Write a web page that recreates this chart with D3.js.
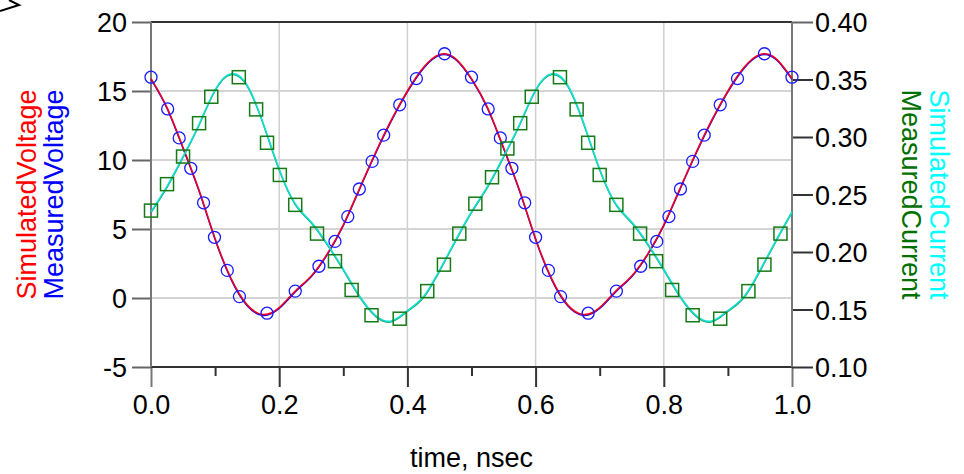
<!DOCTYPE html>
<html>
<head>
<meta charset="utf-8">
<script src="https://cdn.jsdelivr.net/npm/d3@7"></script>
<style>
  body { margin: 0; background: #fff; }
  text { font-family: "Liberation Sans", Arial, sans-serif; }
</style>
</head>
<body>
<div id="chart"></div>
<script>
// simulated traces, every 0.025 ns
var simTime = [0.000, 0.025, 0.050, 0.075, 0.100, 0.125, 0.150, 0.175, 0.200, 0.225,
  0.250, 0.275, 0.300, 0.325, 0.350, 0.375, 0.400, 0.425, 0.450, 0.475,
  0.500, 0.525, 0.550, 0.575, 0.600, 0.625, 0.650, 0.675, 0.700, 0.725,
  0.750, 0.775, 0.800, 0.825, 0.850, 0.875, 0.900, 0.925, 0.950, 0.975, 1.000];
var simVoltage = [15.9, 13.8, 10.9, 7.8, 4.3, 1.4, -0.5, -1.2, -0.7, 0.5,
  1.6, 3.2, 5.3, 7.9, 10.5, 12.9, 15.0, 16.7, 17.65, 17.35,
  15.9, 13.8, 10.9, 7.8, 4.3, 1.4, -0.5, -1.2, -0.7, 0.5,
  1.6, 3.2, 5.3, 7.9, 10.5, 12.9, 15.0, 16.7, 17.65, 17.35, 15.9];
var simCurrent = [0.235, 0.257, 0.283, 0.311, 0.341, 0.355, 0.345, 0.312, 0.272, 0.242,
  0.226, 0.207, 0.185, 0.162, 0.145, 0.140, 0.149, 0.161, 0.184, 0.210,
  0.235, 0.257, 0.283, 0.311, 0.341, 0.355, 0.345, 0.312, 0.272, 0.242,
  0.226, 0.207, 0.185, 0.162, 0.145, 0.140, 0.149, 0.161, 0.184, 0.210, 0.235];

// measured points
var measVTime = [0.000, 0.026, 0.044, 0.062, 0.082, 0.099, 0.119, 0.138, 0.181, 0.225,
  0.262, 0.287, 0.307, 0.325, 0.345, 0.363, 0.388, 0.414, 0.458, 0.500,
  0.526, 0.545, 0.563, 0.583, 0.600, 0.620, 0.639, 0.682, 0.726, 0.764,
  0.789, 0.808, 0.826, 0.845, 0.863, 0.888, 0.915, 0.957, 1.000];
var measVoltage = [16.0, 13.7, 11.6, 9.4, 6.9, 4.4, 2.0, 0.1, -1.1, 0.5,
  2.3, 4.1, 5.9, 7.9, 9.9, 11.8, 14.0, 15.9, 17.7, 16.0,
  13.7, 11.6, 9.4, 6.9, 4.4, 2.0, 0.1, -1.1, 0.5, 2.3,
  4.1, 5.9, 7.9, 9.9, 11.8, 14.0, 15.9, 17.7, 16.0];
var measITime = [0.000, 0.025, 0.050, 0.075, 0.094, 0.137, 0.164, 0.181, 0.201, 0.225,
  0.259, 0.287, 0.313, 0.344, 0.388, 0.431, 0.457, 0.481, 0.506, 0.532,
  0.556, 0.576, 0.594, 0.638, 0.664, 0.682, 0.700, 0.726, 0.763, 0.788,
  0.813, 0.845, 0.888, 0.932, 0.957, 0.982];
var measCurrent = [0.236, 0.259, 0.283, 0.312, 0.335, 0.352, 0.324, 0.295, 0.267, 0.241,
  0.216, 0.192, 0.167, 0.145, 0.142, 0.166, 0.189, 0.216, 0.242, 0.265,
  0.290, 0.312, 0.335, 0.352, 0.324, 0.295, 0.267, 0.241, 0.216, 0.192,
  0.167, 0.145, 0.142, 0.166, 0.189, 0.216];

var xTicks = [0, 0.2, 0.4, 0.6, 0.8, 1.0];
var xMinorTicks = [0.1, 0.3, 0.5, 0.7, 0.9];
var yLeftTicks = [-5, 0, 5, 10, 15, 20];
var yRightTicks = [0.10, 0.15, 0.20, 0.25, 0.30, 0.35, 0.40];

var margin = { top: 22, left: 151, right: 172, bottom: 107 },
  width = 964 - margin.left - margin.right,
  height = 474 - margin.top - margin.bottom;

var svg = d3.select("#chart")
  .append("svg")
  .attr("width", 964)
  .attr("height", 474);

var g = svg.append("g")
  .attr("transform", "translate(" + margin.left + "," + margin.top + ")");

var xScale = d3.scaleLinear().domain([0, 1]).range([0, width]);
var yLeft = d3.scaleLinear().domain([-5, 20]).range([height, 0]);
var yRight = d3.scaleLinear().domain([0.10, 0.40]).range([height, 0]);

// grid
g.selectAll(".vgrid")
  .data(xTicks.slice(1, -1))
  .enter().append("line")
  .attr("x1", function(d) { return xScale(d) })
  .attr("x2", function(d) { return xScale(d) })
  .attr("y1", 0)
  .attr("y2", height)
  .attr("stroke", "#cfcfcf")
  .attr("stroke-width", 1.5);

g.selectAll(".hgrid")
  .data(yLeftTicks.slice(1, -1))
  .enter().append("line")
  .attr("x1", 0)
  .attr("x2", width)
  .attr("y1", function(d) { return yLeft(d) })
  .attr("y2", function(d) { return yLeft(d) })
  .attr("stroke", "#d4d4d4")
  .attr("stroke-width", 2);

// axes
var xAxis = d3.axisBottom(xScale)
  .tickValues(xTicks)
  .tickSize(20)
  .tickPadding(8)
  .tickFormat(d3.format(".1f"));

var xAxisG = g.append("g")
  .attr("class", "axis x-axis")
  .attr("transform", "translate(0," + height + ")")
  .call(xAxis);

var xMinor = d3.axisBottom(xScale)
  .tickValues(xMinorTicks)
  .tickSize(9)
  .tickFormat("");

var xMinorG = g.append("g")
  .attr("transform", "translate(0," + height + ")")
  .call(xMinor);

var yAxisL = d3.axisLeft(yLeft)
  .tickValues(yLeftTicks)
  .tickSize(19)
  .tickPadding(5)
  .tickFormat(function(d) { return String(d) });

var yLG = g.append("g")
  .attr("class", "axis y-axis")
  .call(yAxisL);

var yAxisR = d3.axisRight(yRight)
  .tickValues(yRightTicks)
  .tickSize(21)
  .tickPadding(2)
  .tickFormat(d3.format(".2f"));

var yRG = g.append("g")
  .attr("class", "axis y-axis-right")
  .attr("transform", "translate(" + width + ",0)")
  .call(yAxisR);

[xAxisG, xMinorG, yLG, yRG].forEach(function(a) {
  a.select(".domain").remove();
  a.selectAll("text")
    .attr("fill", "#000")
    .attr("font-size", "27px")
    .attr("font-family", "Liberation Sans, Arial, sans-serif");
});
xAxisG.selectAll("line").attr("stroke", "#333").attr("stroke-width", 2);
xAxisG.selectAll(".tick").filter(function(d) { return d === 0 || d === 1 })
  .select("line").attr("stroke", "#777");
xMinorG.selectAll("line").attr("stroke", "#333").attr("stroke-width", 2);
yLG.selectAll("line").attr("stroke", "#666").attr("stroke-width", 2);
yRG.selectAll("line").attr("stroke", "#333").attr("stroke-width", 2);
yRG.selectAll(".tick").filter(function(d) { return d > 0.39 })
  .select("line").attr("stroke", "#666");
yLG.selectAll("text").attr("dy", "0.36em");
yRG.selectAll("text").attr("dy", "0.36em");

// frame
g.append("line").attr("x1", 0).attr("x2", width).attr("y1", 0).attr("y2", 0)
  .attr("stroke", "#333").attr("stroke-width", 2);
g.append("line").attr("x1", 0).attr("x2", width).attr("y1", height).attr("y2", height)
  .attr("stroke", "#333").attr("stroke-width", 2);
g.append("line").attr("x1", 0).attr("x2", 0).attr("y1", 0).attr("y2", height)
  .attr("stroke", "#777").attr("stroke-width", 2);
g.append("line").attr("x1", width).attr("x2", width).attr("y1", 0).attr("y2", height)
  .attr("stroke", "#777").attr("stroke-width", 2);

// traces
var simV = simTime.map(function(t, i) { return { t: t, v: simVoltage[i] } });
var simI = simTime.map(function(t, i) { return { t: t, v: simCurrent[i] } });
var measV = measVTime.map(function(t, i) { return { t: t, v: measVoltage[i] } });
var measI = measITime.map(function(t, i) { return { t: t, v: measCurrent[i] } });

var lineV = d3.line()
  .x(function(d) { return xScale(d.t) })
  .y(function(d) { return yLeft(d.v) })
  .curve(d3.curveNatural);
var lineI = d3.line()
  .x(function(d) { return xScale(d.t) })
  .y(function(d) { return yRight(d.v) })
  .curve(d3.curveNatural);

// thin measured shadow under the simulated traces
g.append("path").datum(simV)
  .attr("d", lineV)
  .attr("transform", "translate(0,0.9)")
  .attr("fill", "none").attr("stroke", "#0000ff").attr("stroke-width", 1.4);
g.append("path").datum(simV)
  .attr("d", lineV)
  .attr("fill", "none").attr("stroke", "#ee0022").attr("stroke-width", 1.6);

g.append("path").datum(simI)
  .attr("d", lineI)
  .attr("transform", "translate(0,0.9)")
  .attr("fill", "none").attr("stroke", "#1a9a6a").attr("stroke-width", 1.4);
g.append("path").datum(simI)
  .attr("d", lineI)
  .attr("fill", "none").attr("stroke", "#10e0d0").attr("stroke-width", 1.6);

g.selectAll(".meas-v")
  .data(measV)
  .enter().append("circle")
  .attr("class", "meas-v")
  .attr("cx", function(d) { return xScale(d.t) })
  .attr("cy", function(d) { return yLeft(d.v) })
  .attr("r", 6)
  .attr("fill", "none")
  .attr("stroke", "#1a1aff")
  .attr("stroke-width", 1.3);

g.selectAll(".meas-i")
  .data(measI)
  .enter().append("rect")
  .attr("class", "meas-i")
  .attr("x", function(d) { return xScale(d.t) - 6.5 })
  .attr("y", function(d) { return yRight(d.v) - 6.5 })
  .attr("width", 13)
  .attr("height", 13)
  .attr("fill", "none")
  .attr("stroke", "#167a16")
  .attr("stroke-width", 1.5);

// axis titles
var midY = margin.top + height / 2;
svg.append("text")
  .attr("transform", "translate(36," + midY + ") rotate(-90)")
  .attr("text-anchor", "middle")
  .attr("font-size", "27px")
  .attr("fill", "#ff0000")
  .text("SimulatedVoltage");
svg.append("text")
  .attr("transform", "translate(63," + midY + ") rotate(-90)")
  .attr("text-anchor", "middle")
  .attr("font-size", "27px")
  .attr("fill", "#0000ff")
  .text("MeasuredVoltage");
svg.append("text")
  .attr("transform", "translate(930," + midY + ") rotate(90)")
  .attr("text-anchor", "middle")
  .attr("font-size", "27px")
  .attr("fill", "#00ffff")
  .text("SimulatedCurrent");
svg.append("text")
  .attr("transform", "translate(902," + midY + ") rotate(90)")
  .attr("text-anchor", "middle")
  .attr("font-size", "27px")
  .attr("fill", "#007000")
  .text("MeasuredCurrent");
svg.append("text")
  .attr("x", margin.left + width / 2)
  .attr("y", 467)
  .attr("text-anchor", "middle")
  .attr("font-size", "27px")
  .attr("fill", "#000")
  .text("time, nsec");

// stray corner mark
svg.append("path")
  .attr("d", "M0,11 L19,5 L9,0")
  .attr("fill", "none")
  .attr("stroke", "#000")
  .attr("stroke-width", 2);
</script>
</body>
</html>
